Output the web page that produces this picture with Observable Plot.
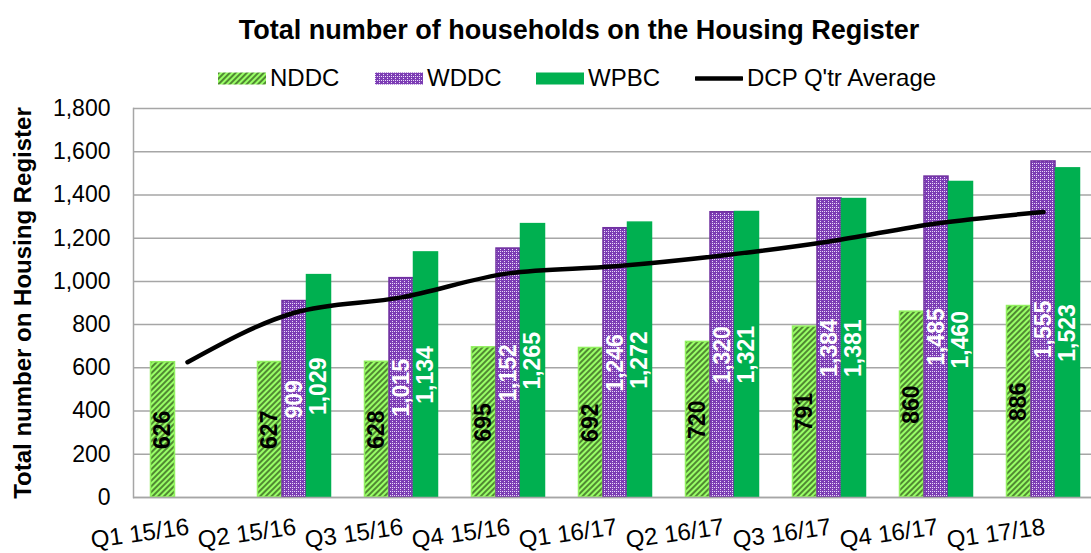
<!DOCTYPE html>
<html>
<head>
<meta charset="utf-8">
<script src="https://cdn.jsdelivr.net/npm/d3@7"></script>
<script src="https://cdn.jsdelivr.net/npm/@observablehq/plot@0.6"></script>
<style>
  html, body { margin: 0; padding: 0; background: #fff; }
  body { font-family: "Liberation Sans", Arial, sans-serif; color: #000; }
  #wrap { position: relative; width: 1091px; height: 553px; overflow: hidden; }
  #title { position: absolute; top: 14px; left: 579px; transform: translateX(-50%); white-space: nowrap;
           font-size: 27px; font-weight: bold; line-height: 32px; }
  #legend { position: absolute; top: 62px; left: 0; width: 1091px; height: 32px; }
  .lg-item { position: absolute; top: 0; height: 32px; display: flex; align-items: center; font-size: 24px; white-space: nowrap; }
  .lg-item svg { margin-right: 4px; }
  #chart { position: absolute; top: 95px; left: 0; }
</style>
</head>
<body>
<svg width="0" height="0" style="position:absolute">
  <defs>
    <pattern id="hatchGreen" patternUnits="userSpaceOnUse" width="4" height="4" patternTransform="rotate(45)">
      <rect width="4" height="4" fill="#99ff66"/>
      <line x1="1" y1="0" x2="1" y2="4" stroke="#2a4a16" stroke-width="1.3"/>
    </pattern>
    <pattern id="dotPurple" patternUnits="userSpaceOnUse" width="4" height="4">
      <rect width="4" height="4" fill="#7c3db4"/>
      <rect x="0" y="0" width="1" height="1" fill="#eadcf8"/>
      <rect x="2" y="0" width="1" height="1" fill="#eadcf8"/>
      <rect x="0" y="2" width="1" height="1" fill="#eadcf8"/>
    </pattern>
  </defs>
</svg>
<div id="wrap">
  <div id="title">Total number of households on the Housing Register</div>
  <div id="legend"></div>
  <div id="chart"></div>
</div>
<script>
// ---- data ----
const quarters = ["Q1 15/16", "Q2 15/16", "Q3 15/16", "Q4 15/16", "Q1 16/17", "Q2 16/17", "Q3 16/17", "Q4 16/17", "Q1 17/18"];
const seriesNames = ["NDDC", "WDDC", "WPBC"];
const nddc = [626, 627, 628, 695, 692, 720, 791, 860, 886];
const wddc = [null, 909, 1015, 1152, 1246, 1320, 1384, 1485, 1555];
const wpbc = [null, 1029, 1134, 1265, 1272, 1321, 1381, 1460, 1523];
const dcpAverage = [626, 855, 926, 1037, 1070, 1120, 1185, 1268, 1321];
const lineName = "DCP Q'tr Average";
const yTicks = [0, 200, 400, 600, 800, 1000, 1200, 1400, 1600, 1800];
const titleText = "Total number of households on the Housing Register";
const yLabel = "Total number on Housing Register";

// ---- styles ----
const seriesStyle = {
  NDDC: {fill: "url(#hatchGreen)", stroke: "#92f060", label: "#000"},
  WDDC: {fill: "url(#dotPurple)", stroke: "#7030a0", label: "#fff"},
  WPBC: {fill: "#00b050", stroke: "#00b050", label: "#fff"}
};
const seriesValues = {NDDC: nddc, WDDC: wddc, WPBC: wpbc};

const rows = [];
seriesNames.forEach(s => seriesValues[s].forEach((v, i) => { if (v != null) rows.push({q: quarters[i], series: s, value: v}); }));
const lineRows = quarters.map((q, i) => ({q, value: dcpAverage[i]}));

const W = 1091, H = 458;
const xRange = [131, 1099];
const step = (xRange[1] - xRange[0]) / quarters.length;
const barW = 24.5;
const pIn = 1 - barW / step;
const fmt = d3.format(",");
const FONT = "Liberation Sans, Arial, sans-serif";

const marks = [
  Plot.gridY(yTicks, {stroke: "#a6a6a6", strokeOpacity: 1, strokeWidth: 1.5}),
  Plot.frame({anchor: "left", stroke: "#a6a6a6", strokeWidth: 1.5}),
];
seriesNames.forEach((s, i) => {
  const st = seriesStyle[s];
  marks.push(Plot.barY(rows.filter(r => r.series === s), {
    x: "q", y: "value", fill: st.fill, stroke: st.stroke, strokeWidth: 1.5, dx: (i - 1) * barW
  }));
});
marks.push(Plot.line(lineRows, {x: "q", y: "value", stroke: "#000", strokeWidth: 4.5, curve: "monotone-x"}));
seriesNames.forEach((s, i) => {
  const st = seriesStyle[s];
  marks.push(Plot.text(rows.filter(r => r.series === s), {
    x: "q", y: d => d.value / 2, text: d => fmt(d.value), rotate: -90,
    fill: st.label, fontWeight: "bold", fontSize: 23, dx: (i - 1) * barW
  }));
});
marks.push(Plot.axisY({ticks: yTicks, tickFormat: fmt, tickSize: 0, tickPadding: 23, fontSize: 23, label: null}));
marks.push(Plot.axisX({tickSize: 0, tickPadding: 20, tickRotate: -8, textAnchor: "end", fontSize: 24, label: null}));
marks.push(Plot.text([yLabel], {frameAnchor: "left", textAnchor: "middle", rotate: -90, dx: -110,
  fontWeight: "bold", fontSize: 24, fill: "#000"}));
marks.push(Plot.ruleY([0], {stroke: "#a6a6a6", strokeWidth: 1.5}));

const chart = Plot.plot({
  width: W, height: H,
  marginTop: 13, marginBottom: 56, marginLeft: 133, marginRight: 0,
  style: {fontFamily: FONT, color: "#000", background: "transparent", overflow: "visible"},
  x: {domain: quarters, range: xRange, paddingInner: pIn, paddingOuter: pIn / 2, label: null, axis: null},
  y: {domain: [0, 1800], label: null, axis: null},
  marks
});
document.getElementById("chart").appendChild(chart);

// ---- legend ----
const legendItems = [
  {name: "NDDC", left: 218, kind: "bar", fill: seriesStyle.NDDC.fill},
  {name: "WDDC", left: 375, kind: "bar", fill: seriesStyle.WDDC.fill},
  {name: "WPBC", left: 536, kind: "bar", fill: seriesStyle.WPBC.fill},
  {name: lineName, left: 695, kind: "line"}
];
const legend = document.getElementById("legend");
legendItems.forEach(it => {
  const div = document.createElement("div");
  div.className = "lg-item";
  div.style.left = it.left + "px";
  const sw = it.kind === "bar"
    ? `<svg width="48" height="13"><rect x="0" y="0.5" width="48" height="12" fill="${it.fill}"/></svg>`
    : `<svg width="48" height="13"><line x1="1" y1="6.5" x2="47" y2="6.5" stroke="#000" stroke-width="4.5" stroke-linecap="round"/></svg>`;
  div.innerHTML = sw + `<span>${it.name}</span>`;
  legend.appendChild(div);
});
</script>
</body>
</html>
